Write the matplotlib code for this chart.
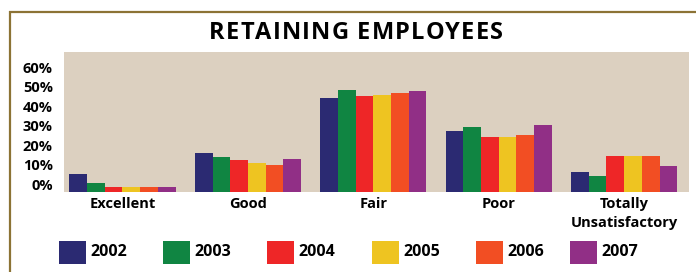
import matplotlib
matplotlib.use("Agg")
import matplotlib.pyplot as plt
from matplotlib.lines import Line2D
from matplotlib.patches import Rectangle
import matplotlib.transforms as mtransforms
import numpy as np

title = "RETAINING EMPLOYEES"
categories = ["Excellent", "Good", "Fair", "Poor", "Totally\nUnsatisfactory"]
years = ["2002", "2003", "2004", "2005", "2006", "2007"]
colors = ["#2B2A72", "#108542", "#EE2627", "#EEC421", "#F24E23", "#912F86"]

v2002 = [6.4, 17.2, 45.5, 28.5, 7.5]
v2003 = [2.0, 15.2, 49.6, 30.6, 5.4]
v2004 = [0.0, 13.6, 46.5, 25.4, 15.7]
v2005 = [0.0, 12.0, 47.0, 25.4, 15.7]
v2006 = [0.0, 11.1, 48.1, 26.5, 15.7]
v2007 = [0.0, 14.1, 49.1, 31.6, 10.5]
series = [v2002, v2003, v2004, v2005, v2006, v2007]

yticks = [0, 10, 20, 30, 40, 50, 60]
ytick_labels = ["0%", "10%", "20%", "30%", "40%", "50%", "60%"]

W, H = 696, 272
fig = plt.figure(figsize=(W / 100, H / 100), dpi=100)
fig.patch.set_facecolor("white")

FONT = "Open Sans"
ax = fig.add_axes([64 / W, (H - 191.5) / H, (689 - 64) / W, (191.5 - 51.7) / H])
ax.set_facecolor("#DCD0C0")
ymin, ymax = -2.57, 69.3
ax.set_ylim(ymin, ymax)
ax.set_xlim(-0.466, 4.517)

bw = 0.141
x = np.arange(len(categories))
for j, (vals, c) in enumerate(zip(series, colors)):
    vals = np.array(vals)
    ax.bar(x + (j - 2.5) * bw, vals - ymin, bottom=ymin, width=bw, color=c,
           linewidth=0, align="center")

for s in ax.spines.values():
    s.set_visible(False)
ax.set_yticks(yticks)
ax.set_yticklabels(ytick_labels, fontsize=10.5, fontweight="bold", family=FONT)
ax.set_xticks(x)
ax.set_xticklabels(categories, fontsize=10.5, fontweight="bold", family=FONT,
                   linespacing=1.45)
ax.tick_params(axis="both", length=0)
ax.tick_params(axis="y", pad=8)
ax.tick_params(axis="x", pad=4)
off = mtransforms.ScaledTranslation(0, 2.5 / 100, fig.dpi_scale_trans)
for lab in ax.get_yticklabels():
    lab.set_transform(lab.get_transform() + off)

# title with letter spacing
renderer = fig.canvas.get_renderer()
tracking = 1.15  # px between letters
tkw = dict(fontsize=17, fontweight="bold", family=FONT, va="center", ha="left")
widths = []
for ch in title:
    if ch == " ":
        t = fig.text(0, 0, "A A", **tkw)
        wa = fig.text(0, 0, "AA", **tkw)
        w = t.get_window_extent(renderer).width - wa.get_window_extent(renderer).width
        t.remove(); wa.remove()
    else:
        t = fig.text(0, 0, ch, **tkw)
        w = t.get_window_extent(renderer).width
        t.remove()
    widths.append(w)
total = sum(widths) + tracking * (len(title) - 1)
cx = 356 - total / 2
for ch, w in zip(title, widths):
    if ch != " ":
        fig.text(cx / W, 1 - 33 / H, ch, **tkw)
    cx += w + tracking

# legend
sq_x = [59, 163, 267, 372, 476, 570]
for xi, yr, c in zip(sq_x, years, colors):
    fig.patches.append(Rectangle((xi / W, 1 - 264 / H), 27 / W, 23 / H,
                                 transform=fig.transFigure, color=c, linewidth=0))
    fig.text((xi + 31) / W, 1 - 252.5 / H, yr, ha="left", va="center",
             fontsize=11.5, fontweight="bold", family=FONT)

# frame
fc = "#8C7335"
fig.add_artist(Line2D([9.2 / W, 1], [1 - 11.7 / H, 1 - 11.7 / H], color=fc, lw=1.6,
                      transform=fig.transFigure, solid_capstyle="butt"))
fig.add_artist(Line2D([10 / W, 10 / W], [1 - 11 / H, 0], color=fc, lw=1.6,
                      transform=fig.transFigure, solid_capstyle="butt"))

fig.savefig("out.png", dpi=100)
